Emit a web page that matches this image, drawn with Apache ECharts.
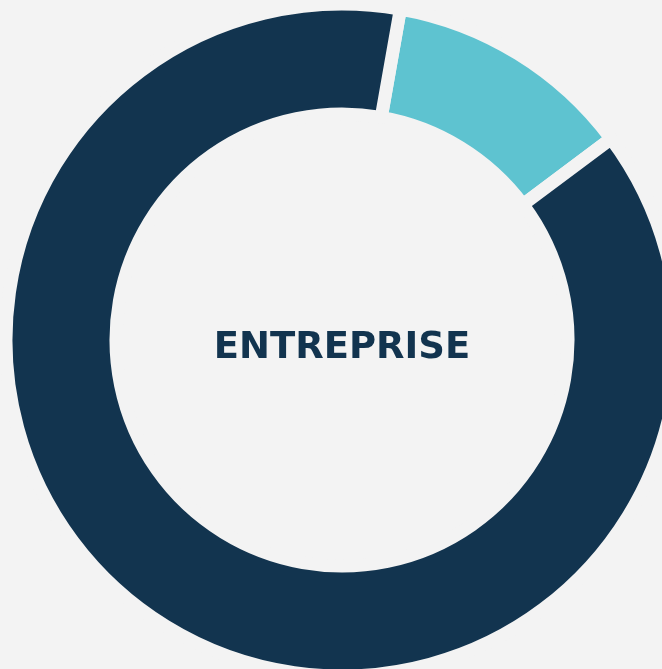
<!DOCTYPE html>
<html>
<head>
<meta charset="utf-8">
<script src="https://cdn.jsdelivr.net/npm/echarts@6/dist/echarts.min.js"></script>
<style>
html,body{margin:0;padding:0;background:#f3f3f3;}
#c{width:662px;height:669px;}
</style>
</head>
<body>
<div id="c"></div>
<script>
const categories = ['Segment A', 'Segment B'];
const values = [12, 88];
const colors = ['#5ec3d0', '#12344f'];
const centerLabel = 'ENTREPRISE';

const chart = echarts.init(document.getElementById('c'));
chart.setOption({
  backgroundColor: '#f3f3f3',
  animation: false,
  graphic: [{
    type: 'text',
    x: 342,
    y: 348,
    style: {
      text: centerLabel,
      fill: '#12344f',
      font: 'bold 37px "DejaVu Sans"',
      textAlign: 'center',
      textVerticalAlign: 'middle'
    }
  }],
  series: [{
    type: 'pie',
    center: [342, 340],
    radius: [226, 336],
    startAngle: 80,
    clockwise: true,
    label: { show: false },
    labelLine: { show: false },
    emphasis: { disabled: true },
    itemStyle: { borderColor: '#f3f3f3', borderWidth: 13 },
    data: categories.map((n, i) => ({ name: n, value: values[i], itemStyle: { color: colors[i] } }))
  }]
});
</script>
</body>
</html>
